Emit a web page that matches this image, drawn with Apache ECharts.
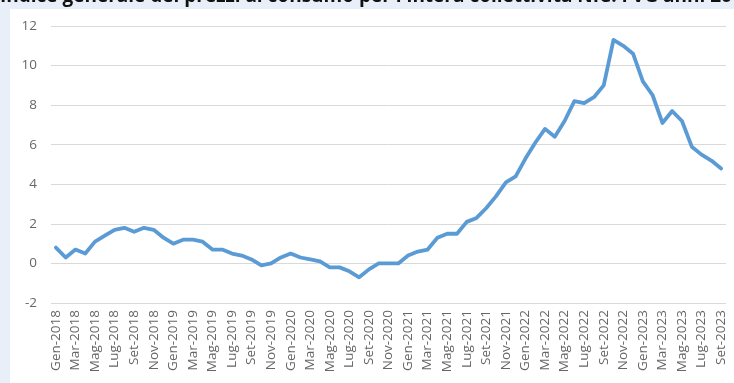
<!DOCTYPE html>
<html>
<head>
<meta charset="utf-8">
<script src="https://cdn.jsdelivr.net/npm/echarts@6/dist/echarts.min.js"></script>
<style>
html,body{margin:0;padding:0;background:#e9eff9;}
#c{width:734px;height:383px;}
</style>
</head>
<body>
<div id="c"></div>
<script>
const titleText = "Indice generale dei prezzi al consumo per l'intera collettività NIC. FVG anni 2018-2023";
const monthNames = ["Gen","Feb","Mar","Apr","Mag","Giu","Lug","Ago","Set","Ott","Nov","Dic"];
const years = [2018, 2019, 2020, 2021, 2022, 2023];
const categories = [];
years.forEach(y => monthNames.forEach(m => categories.push(m + "-" + y)));
categories.length = 69; // Gen-2018 ... Set-2023

const values2018 = [0.8, 0.3, 0.7, 0.5, 1.1, 1.4, 1.7, 1.8, 1.6, 1.8, 1.7, 1.3];
const values2019 = [1.0, 1.2, 1.2, 1.1, 0.7, 0.7, 0.5, 0.4, 0.2, -0.1, 0.0, 0.3];
const values2020 = [0.5, 0.3, 0.2, 0.1, -0.2, -0.2, -0.4, -0.7, -0.3, 0.0, 0.0, 0.0];
const values2021 = [0.4, 0.6, 0.7, 1.3, 1.5, 1.5, 2.1, 2.3, 2.8, 3.4, 4.1, 4.4];
const values2022 = [5.3, 6.1, 6.8, 6.4, 7.2, 8.2, 8.1, 8.4, 9.0, 11.3, 11.0, 10.6];
const values2023 = [9.2, 8.5, 7.1, 7.7, 7.2, 5.9, 5.5, 5.2, 4.8];
const values = [].concat(values2018, values2019, values2020, values2021, values2022, values2023);

const yMin = -2, yMax = 12, yStep = 2;

const chart = echarts.init(document.getElementById('c'), null, {renderer: 'canvas'});
chart.setOption({
  backgroundColor: '#e9eff9',
  animation: false,
  graphic: [
    {type: 'rect', left: 10, top: 9, shape: {width: 724, height: 374}, style: {fill: '#ffffff'}, z: -10},
    {type: 'text', left: 0, top: -13, z: 100, style: {text: titleText, font: 'bold 19px "Open Sans", sans-serif', fill: '#111111'}}
  ],
  grid: {left: 51, right: 8, top: 26, bottom: 80, containLabel: false},
  xAxis: {
    type: 'category',
    data: categories,
    boundaryGap: true,
    axisLine: {show: false},
    axisTick: {show: false},
    axisLabel: {interval: 1, rotate: 90, color: '#666666', fontSize: 13.5, fontFamily: '"Open Sans", sans-serif', margin: 7}
  },
  yAxis: {
    type: 'value',
    min: yMin, max: yMax, interval: yStep,
    axisLine: {show: false},
    axisTick: {show: false},
    axisLabel: {color: '#666666', fontSize: 13.5, fontFamily: '"Open Sans", sans-serif', margin: 14},
    splitLine: {lineStyle: {color: '#d9d9d9', width: 1}}
  },
  series: [{
    type: 'line',
    data: values,
    symbol: 'none',
    smooth: false,
    lineStyle: {color: '#5b9bd5', width: 3.8, cap: 'round', join: 'round'}
  }]
});
</script>
</body>
</html>
